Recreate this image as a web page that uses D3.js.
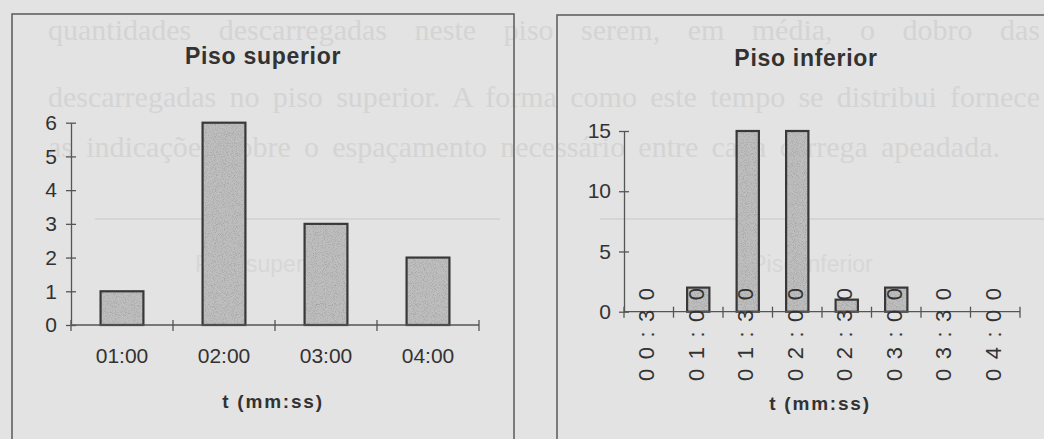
<!DOCTYPE html>
<html>
<head>
<meta charset="utf-8">
<script src="https://cdn.jsdelivr.net/npm/d3@7/dist/d3.min.js"></script>
<style>
  html, body { margin: 0; padding: 0; background: #e3e3e3; }
  svg { display: block; }
</style>
</head>
<body>
<svg id="chart" width="1044" height="439"></svg>
<script>
// ---- data ----
const upperCategories = ["01:00", "02:00", "03:00", "04:00"];
const upperValues = [1, 6, 3, 2];
const upperTicks = [0, 1, 2, 3, 4, 5, 6];
const upperTitle = "Piso superior";

const lowerCategories = ["00:30", "01:00", "01:30", "02:00", "02:30", "03:00", "03:30", "04:00"];
const lowerValues = [0, 2, 15, 15, 1, 2, 0, 0];
const lowerTicks = [0, 5, 10, 15];
const lowerTitle = "Piso inferior";

const axisTitle = "t (mm:ss)";

// faint bleed-through text from the other side of the scanned page
const ghostLines = [
  "quantidades descarregadas neste piso serem, em média, o dobro das",
  "descarregadas no piso superior. A forma como este tempo se distribui fornece",
  "as indicações sobre o espaçamento necessário entre cada carrega apeadada."
];
const ghostTitles = ["Piso superior", "Piso inferior"];

// ---- drawing ----
const svg = d3.select("#chart");
const ink = "#323232";
const sans = "'Liberation Sans', Arial, sans-serif";

// speckle texture for the bars
const defs = svg.append("defs");
const f = defs.append("filter").attr("id", "speckle")
  .attr("x", 0).attr("y", 0).attr("width", 1).attr("height", 1);
f.append("feTurbulence").attr("type", "fractalNoise").attr("baseFrequency", 1.1)
  .attr("numOctaves", 1).attr("seed", 3).attr("result", "t");
f.append("feColorMatrix").attr("in", "t").attr("type", "matrix")
  .attr("values", "0 0 0 0 0  0 0 0 0 0  0 0 0 0 0  0 0 0 -1.4 0.75").attr("result", "n");
f.append("feComposite").attr("in", "n").attr("in2", "SourceGraphic").attr("operator", "in");

svg.append("rect").attr("width", 1044).attr("height", 439).attr("fill", "#e3e3e3");

// ghost text, justified with word spacing
const ghost = svg.append("g").attr("fill", "#d4d4d4")
  .style("font-family", "'Liberation Serif', 'Times New Roman', serif")
  .style("font-size", "30px");
const ghostPos = [[48, 40, 1040], [48, 107, 1040], [48, 157, 1000]];
ghostLines.forEach((t, i) => {
  const el = ghost.append("text")
    .attr("x", ghostPos[i][0]).attr("y", ghostPos[i][1]).text(t);
  const natural = el.node().getComputedTextLength();
  const spaces = t.split(" ").length - 1;
  const extra = (ghostPos[i][2] - ghostPos[i][0] - natural) / spaces;
  if (extra > 0) el.style("word-spacing", extra + "px");
});
svg.append("g").attr("fill", "#d7d7d7")
  .style("font-family", sans).style("font-size", "23px")
  .selectAll("text").data(ghostTitles).join("text")
  .attr("x", (d, i) => i === 0 ? 262 : 812).attr("y", 272)
  .attr("text-anchor", "middle").text(d => d);
svg.append("g").attr("stroke", "#d5d5d5").attr("stroke-width", 2)
  .selectAll("line").data([[95, 500], [600, 1044]]).join("line")
  .attr("x1", d => d[0]).attr("x2", d => d[1]).attr("y1", 219).attr("y2", 219);

// chart frames
svg.append("rect").attr("x", 12).attr("y", 14).attr("width", 502).attr("height", 450)
  .attr("fill", "none").attr("stroke", "#5a5a5a").attr("stroke-width", 1.5);
svg.append("rect").attr("x", 557).attr("y", 15).attr("width", 520).attr("height", 450)
  .attr("fill", "none").attr("stroke", "#5a5a5a").attr("stroke-width", 1.5);

function drawChart(cfg) {
  const g = svg.append("g");
  const x = d3.scaleBand().domain(cfg.cats).range(cfg.xr)
    .paddingInner(cfg.pad).paddingOuter(cfg.pad / 2);
  const y = d3.scaleLinear().domain(cfg.yd).range(cfg.yr);

  // title
  g.append("text").attr("x", cfg.titleX).attr("y", cfg.titleY)
    .attr("text-anchor", "middle").attr("fill", ink)
    .style("font-family", sans).style("font-weight", "bold")
    .style("font-size", "23px").style("letter-spacing", "0.7px")
    .text(cfg.title);

  // bars
  const barData = cfg.vals.map((v, i) => ({c: cfg.cats[i], v})).filter(d => d.v > 0);
  const bars = g.append("g").selectAll("g").data(barData).join("g");
  bars.append("rect")
    .attr("x", d => x(d.c)).attr("width", x.bandwidth())
    .attr("y", d => y(d.v)).attr("height", d => y(0) - y(d.v))
    .attr("fill", "#bebebe");
  bars.append("rect")
    .attr("x", d => x(d.c)).attr("width", x.bandwidth())
    .attr("y", d => y(d.v)).attr("height", d => y(0) - y(d.v))
    .attr("fill", "#000").attr("filter", "url(#speckle)").attr("opacity", 0.3);
  bars.append("rect")
    .attr("x", d => x(d.c)).attr("width", x.bandwidth())
    .attr("y", d => y(d.v)).attr("height", d => y(0) - y(d.v))
    .attr("fill", "none").attr("stroke", "#383838").attr("stroke-width", 2.2);

  // y axis
  const ya = g.append("g").attr("transform", `translate(${cfg.xr[0]},0)`)
    .call(d3.axisLeft(y).tickValues(cfg.ticks).tickFormat(d3.format("d"))
      .tickSize(5).tickPadding(cfg.yPad).tickSizeOuter(0));
  ya.select(".domain").attr("stroke", "#555").attr("stroke-width", 1.3);
  ya.selectAll(".tick line").attr("x1", 5).attr("stroke", "#555").attr("stroke-width", 1.3);
  ya.selectAll(".tick text").attr("fill", ink)
    .style("font-family", sans).style("font-size", "21px");

  // x axis: line, boundary ticks
  const step = x.step();
  const x0 = cfg.xr[0];
  const bounds = d3.range(cfg.cats.length + 1).map(i => x0 + i * step);
  g.append("line").attr("x1", cfg.xr[0]).attr("x2", cfg.xr[1])
    .attr("y1", y(0)).attr("y2", y(0)).attr("stroke", "#555").attr("stroke-width", 1.3);
  g.append("g").selectAll("line").data(bounds).join("line")
    .attr("x1", d => d).attr("x2", d => d)
    .attr("y1", y(0) - 5).attr("y2", y(0) + 6)
    .attr("stroke", "#555").attr("stroke-width", 1.3);

  cfg.labels(g, x, y);

  // axis title
  g.append("text").attr("x", cfg.axX).attr("y", cfg.axY)
    .attr("text-anchor", "middle").attr("fill", ink)
    .style("font-family", sans).style("font-weight", "bold")
    .style("font-size", "19px").style("letter-spacing", "1.8px")
    .text(axisTitle);
}

drawChart({
  cats: upperCategories, vals: upperValues, ticks: upperTicks, title: upperTitle,
  xr: [71, 479], yd: [0, 6], yr: [325, 122.7], pad: 0.58, yPad: 9,
  titleX: 263, titleY: 64, axX: 273, axY: 408,
  labels: (g, x, y) => {
    g.append("g").selectAll("text").data(upperCategories).join("text")
      .attr("x", d => x(d) + x.bandwidth() / 2).attr("y", 363)
      .attr("text-anchor", "middle").attr("fill", ink)
      .style("font-family", sans).style("font-size", "21px")
      .text(d => d);
  }
});

drawChart({
  cats: lowerCategories, vals: lowerValues, ticks: lowerTicks, title: lowerTitle,
  xr: [624, 1020], yd: [0, 15], yr: [311.7, 131], pad: 0.55, yPad: 8,
  titleX: 806, titleY: 66, axX: 820, axY: 410,
  labels: (g, x, y) => {
    g.append("g").selectAll("text").data(lowerCategories).join("text")
      .attr("transform", d => `translate(${x(d) + x.bandwidth() / 2 - 2},381) rotate(-90)`)
      .attr("text-anchor", "start").attr("dominant-baseline", "central")
      .attr("fill", ink)
      .style("font-family", sans).style("font-size", "22px")
      .style("letter-spacing", "9.5px")
      .text(d => d);
  }
});
</script>
</body>
</html>
